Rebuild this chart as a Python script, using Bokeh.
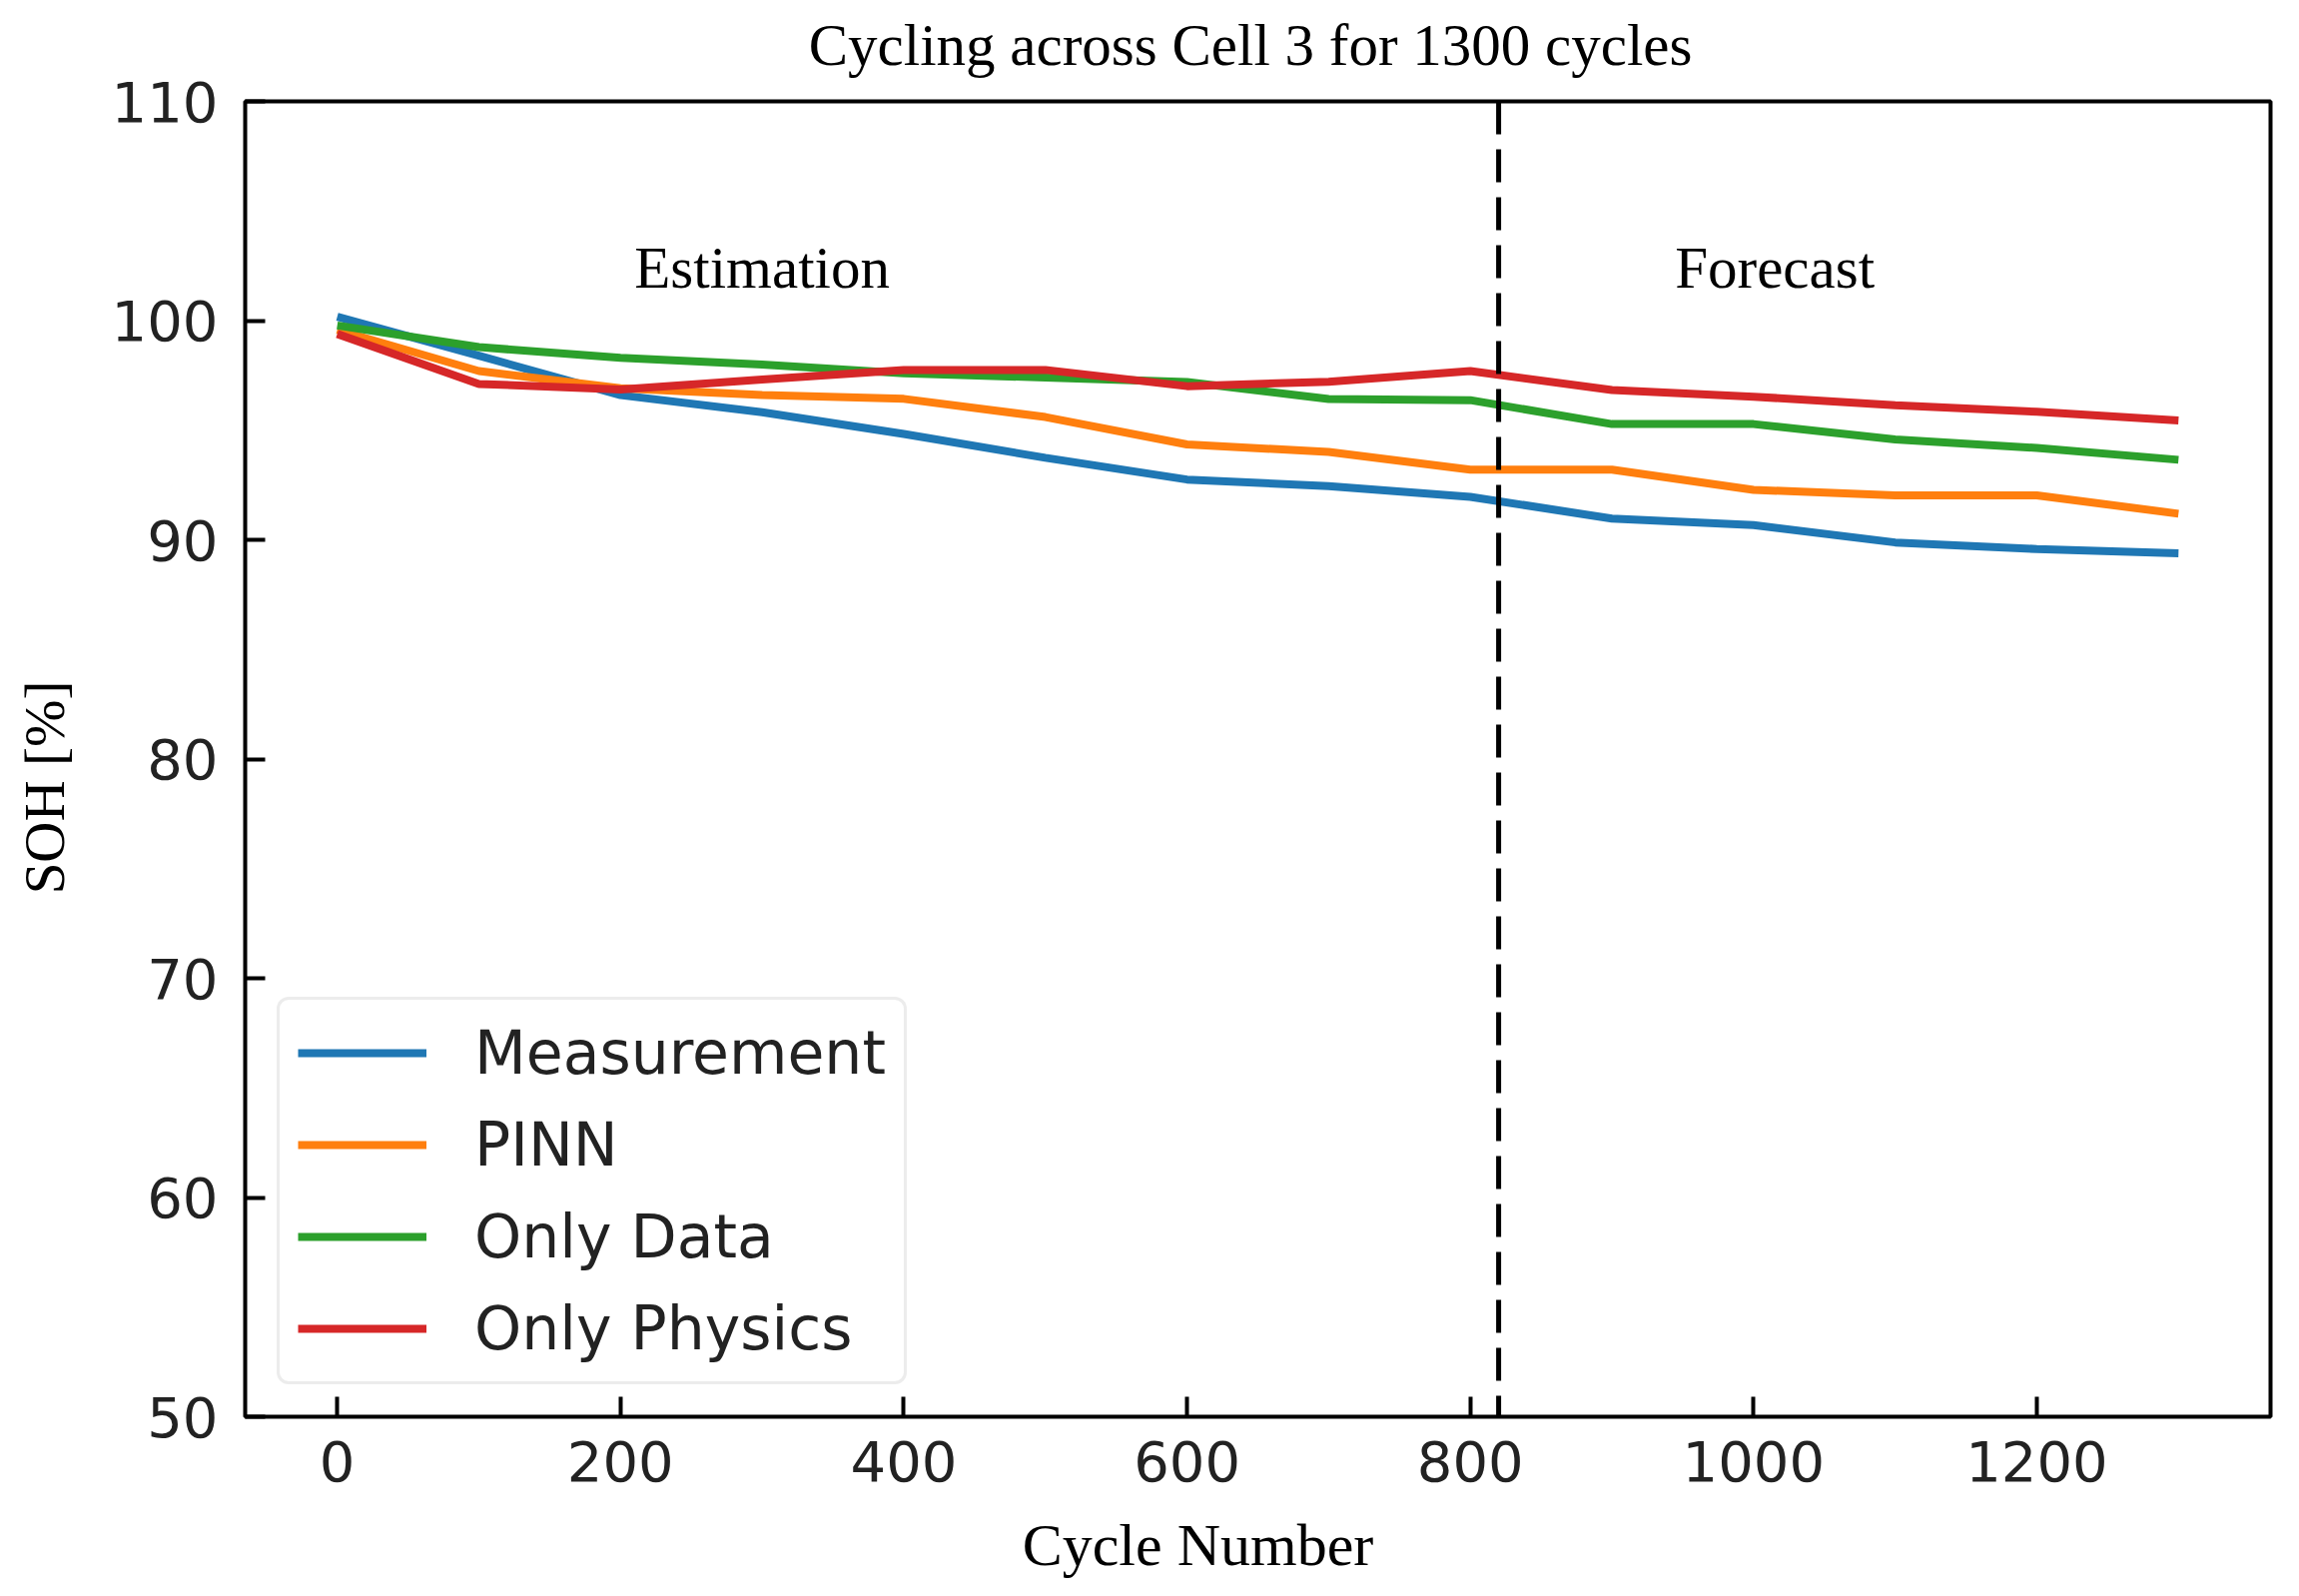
from bokeh.plotting import figure
from bokeh.models import Range1d, FixedTicker, Span, LinearAxis
from bokeh.embed import file_html
from bokeh.resources import INLINE
from bokeh.core.properties import value

# ---- data ----
cycles = [0, 100, 200, 300, 400, 500, 600, 700, 800, 900, 1000, 1100, 1200, 1300]
measurement = [100.18, 98.4, 96.6, 95.82, 94.83, 93.74, 92.75, 92.45, 91.96, 90.97, 90.67, 89.88, 89.58, 89.38]
pinn = [99.58, 97.7, 96.91, 96.61, 96.43, 95.6, 94.35, 94.01, 93.2, 93.2, 92.28, 92.03, 92.03, 91.19]
only_data = [99.78, 98.79, 98.3, 98.0, 97.6, 97.4, 97.2, 96.42, 96.37, 95.28, 95.28, 94.58, 94.19, 93.65]
only_physics = [99.39, 97.11, 96.86, 97.31, 97.75, 97.75, 97.01, 97.21, 97.7, 96.83, 96.53, 96.14, 95.84, 95.44]

series_names = ["Measurement", "PINN", "Only Data", "Only Physics"]
series_colors = ["#1f77b4", "#ff7f0e", "#2ca02c", "#d62728"]

x_ticks = [0, 200, 400, 600, 800, 1000, 1200]
y_ticks = [50, 60, 70, 80, 90, 100, 110]

split_cycle = 820
region_labels = ["Estimation", "Forecast"]
region_x = [300, 1015]
region_y = [102.4, 102.4]

title_text = "Cycling across Cell 3 for 1300 cycles"
x_label = "Cycle Number"
y_label = "SOH [%]"

SERIF = "Liberation Serif"
SANS = "DejaVu Sans"
NBSP = "\u00a0"  # trailing no-break spaces nudge centred labels off-centre, as in the reference

p = figure(width=2286, height=1582, output_backend="svg", toolbar_location=None,
           x_range=Range1d(-65, 1365), y_range=Range1d(50, 110),
           min_border_left=245, min_border_right=13, min_border_top=101, min_border_bottom=164)

p.xgrid.visible = False
p.ygrid.visible = False
p.background_fill_color = "white"
p.border_fill_color = "white"
p.outline_line_color = "black"
p.outline_line_width = 4

for ax, ticks in ((p.xaxis[0], x_ticks), (p.yaxis[0], y_ticks)):
    ax.ticker = FixedTicker(ticks=ticks)
    ax.axis_line_color = None
    ax.major_tick_in = 20
    ax.major_tick_out = 0
    ax.major_tick_line_width = 4
    ax.major_tick_line_color = "black"
    ax.minor_tick_line_color = None
    ax.major_label_text_font = SANS
    ax.major_label_text_font_size = "56px"
    ax.major_label_text_color = "#222222"
    ax.axis_label_text_font = SERIF
    ax.axis_label_text_font_style = "normal"
    ax.axis_label_text_color = "black"

p.xaxis[0].major_label_standoff = 24
p.xaxis[0].axis_label = x_label + NBSP * 8
p.xaxis[0].axis_label_text_font_size = "60px"
p.xaxis[0].axis_label_standoff = 28

p.yaxis[0].major_label_standoff = 27
p.yaxis[0].axis_label = y_label + NBSP * 4
p.yaxis[0].axis_label_text_font_size = "57px"
p.yaxis[0].axis_label_standoff = 33

# chart title as the label of an empty axis above the frame
top_axis = LinearAxis(ticker=FixedTicker(ticks=[]), axis_line_color=None,
                      major_tick_line_color=None, minor_tick_line_color=None,
                      major_tick_in=0, major_tick_out=0,
                      major_label_text_font_size="0px", major_label_standoff=0,
                      axis_label=title_text + NBSP, axis_label_standoff=24,
                      axis_label_text_font=SERIF, axis_label_text_font_size="59px",
                      axis_label_text_font_style="normal", axis_label_text_color="black")
p.add_layout(top_axis, "above")

all_series = [measurement, pinn, only_data, only_physics]
for name, color, ys in zip(series_names, series_colors, all_series):
    p.line(cycles, ys, line_color=color, line_width=8, legend_label=name)

p.add_layout(Span(location=split_cycle, dimension="height", line_color="black",
                  line_width=5, line_dash="33 15"))

p.text(x=region_x, y=region_y, text=region_labels, text_font=value(SERIF),
       text_font_size="59px", text_align="center", text_baseline="alphabetic",
       text_color="black")

lg = p.legend[0]
lg.location = "bottom_left"
lg.margin = 32
lg.padding = 18
lg.spacing = 22
lg.glyph_width = 129
lg.glyph_height = 70
lg.label_height = 70
lg.label_standoff = 48
lg.label_text_font = SANS
lg.label_text_font_size = "60px"
lg.label_text_color = "#222222"
lg.border_line_color = "#d9d9d9"
lg.border_line_width = 3
lg.background_fill_alpha = 0.8
if "border_radius" in lg.properties():
    lg.border_radius = 12

open("out.html", "w").write(file_html(p, INLINE))
